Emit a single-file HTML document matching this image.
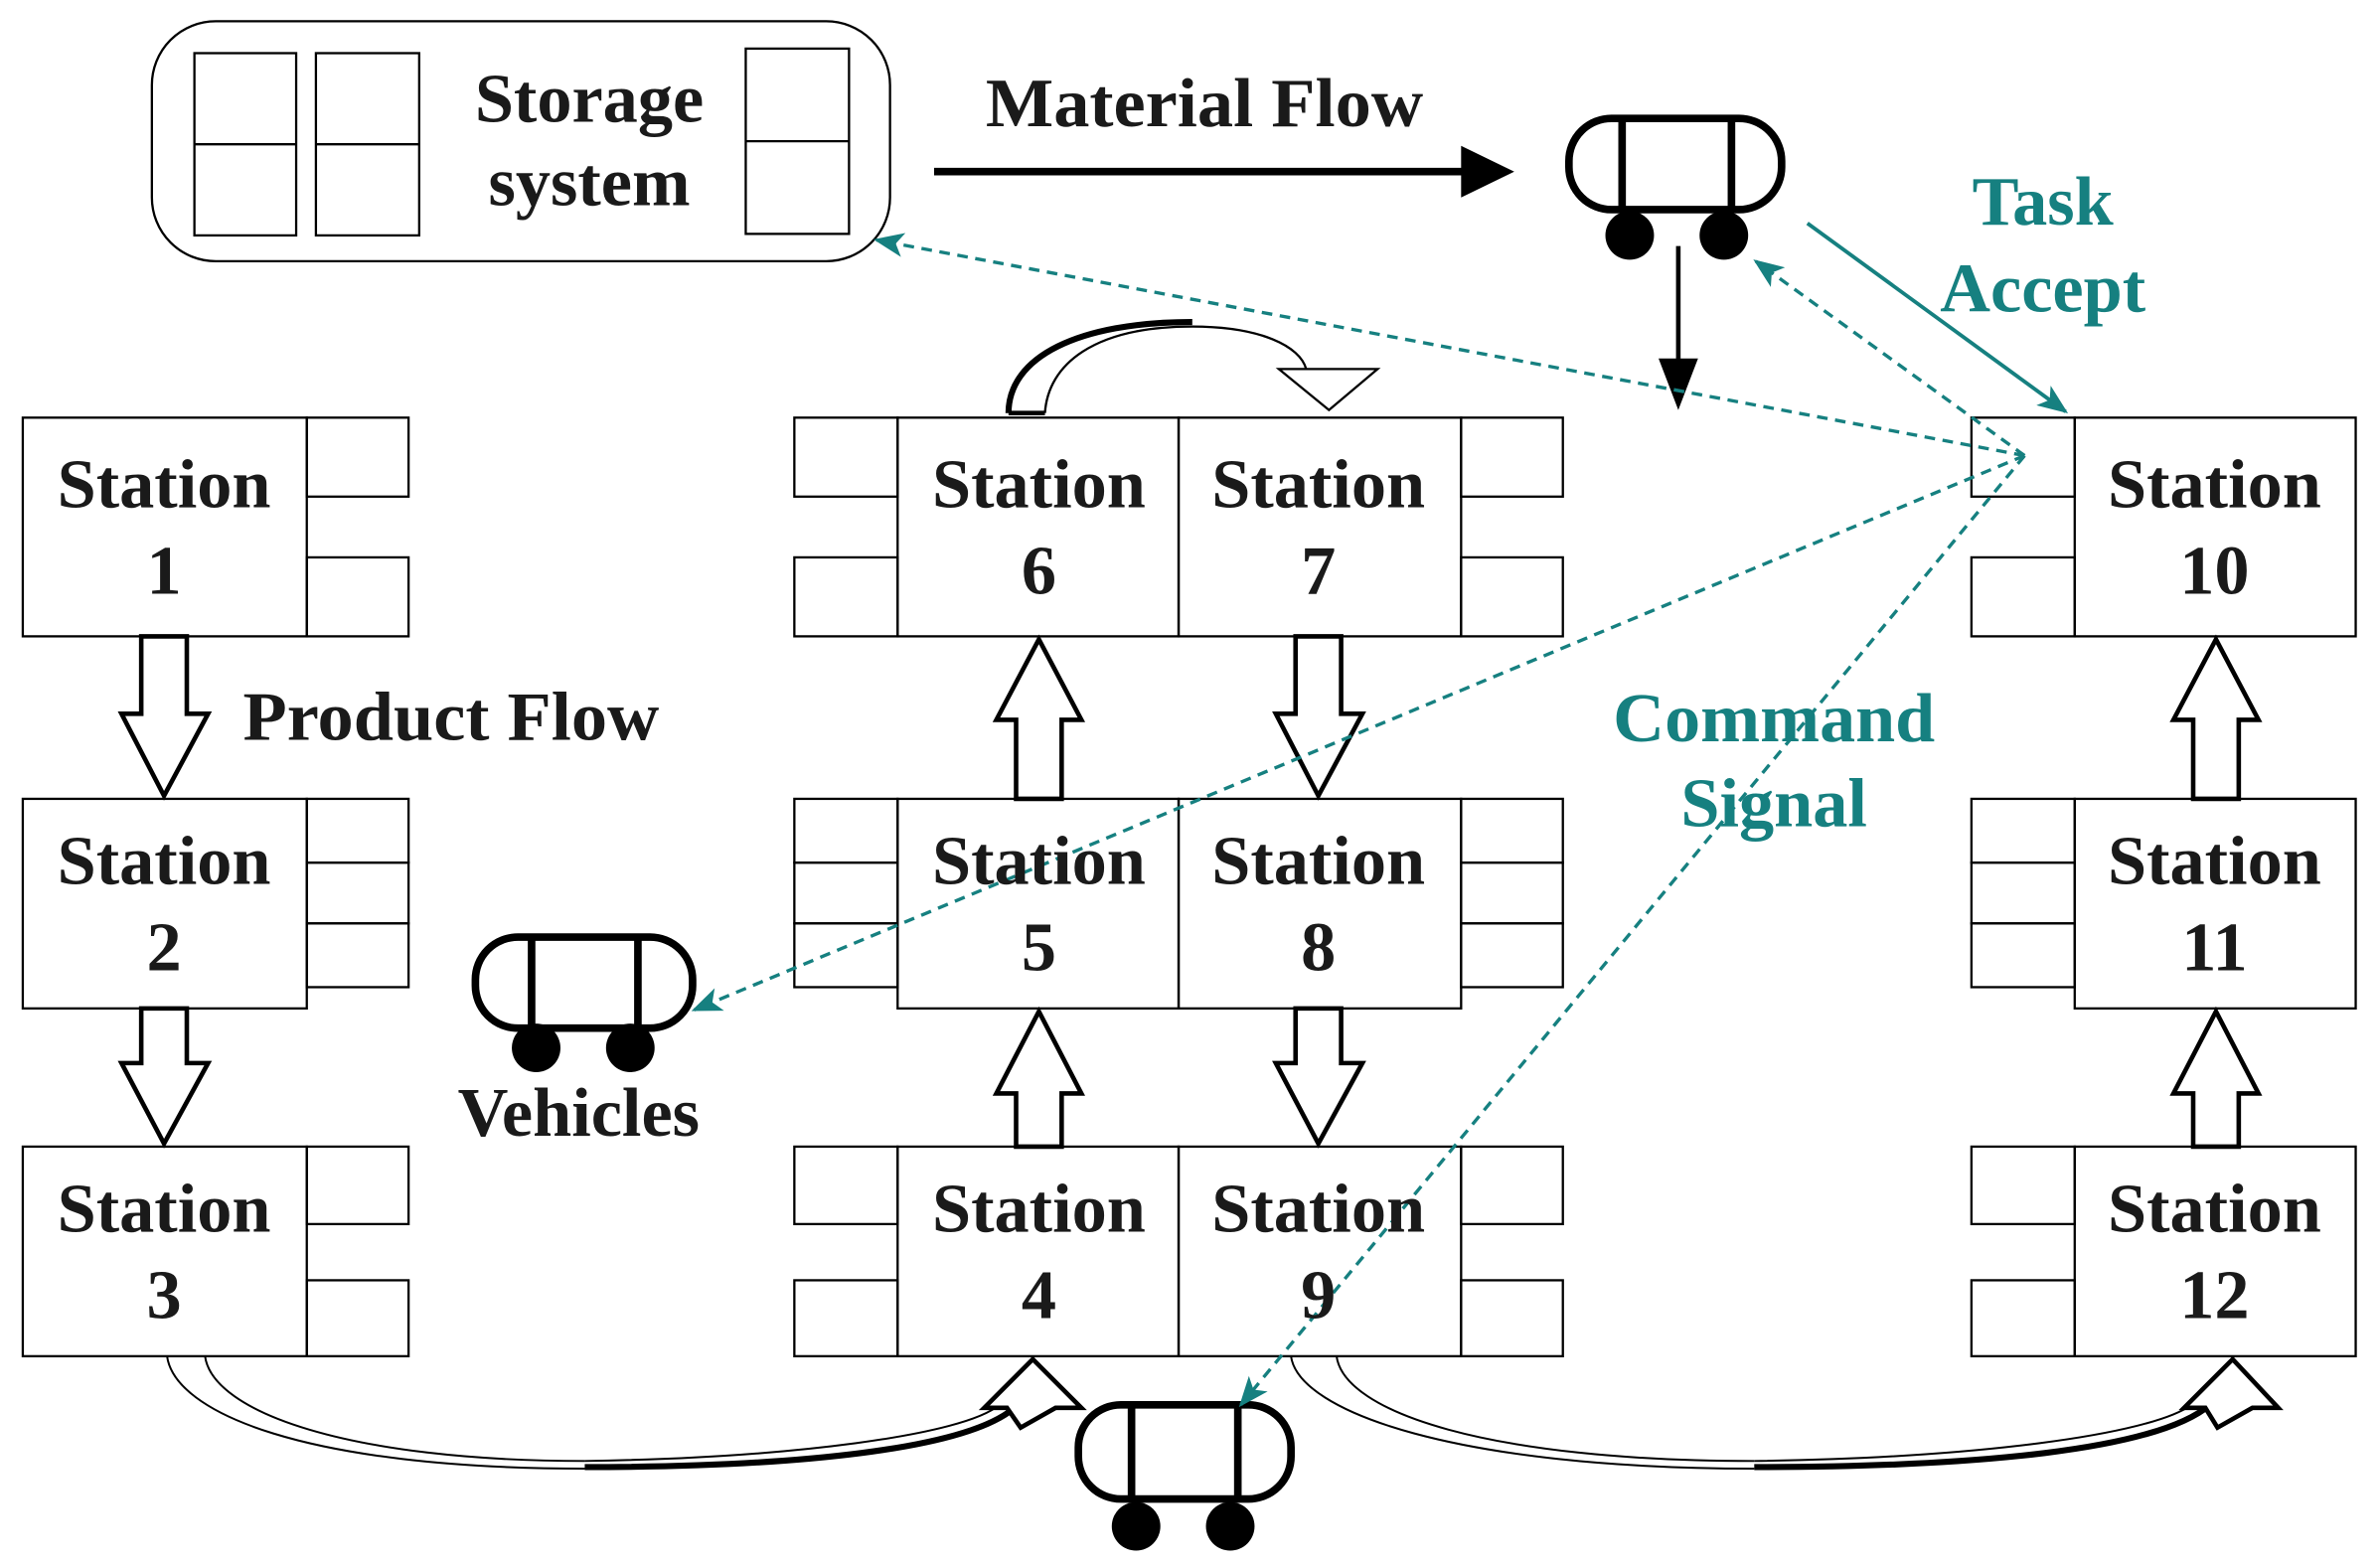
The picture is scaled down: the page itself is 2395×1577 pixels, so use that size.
<!DOCTYPE html>
<html><head><meta charset="utf-8"><style>
html,body{margin:0;padding:0;background:#fff;}
svg{display:block;}
text{font-family:"Liberation Serif",serif;font-weight:bold;}
</style></head><body>
<svg width="2395" height="1577" viewBox="0 0 1567 1031.8" preserveAspectRatio="none" xmlns="http://www.w3.org/2000/svg">
<defs>
<marker id="tb" markerWidth="20" markerHeight="20" refX="18" refY="10" orient="auto" markerUnits="userSpaceOnUse" viewBox="0 0 20 20"><path d="M0,2 L20,10 L0,18 L5,10 z" fill="#168080"/></marker>
</defs>
<g fill="none" stroke="#000" stroke-width="1.5">
<rect x="100" y="14" width="486" height="158" rx="42"/>
<rect x="128" y="35" width="67" height="120"/><line x1="128" y1="95" x2="195" y2="95"/>
<rect x="208" y="35" width="68" height="120"/><line x1="208" y1="95" x2="276" y2="95"/>
<rect x="491" y="32" width="68" height="122"/><line x1="491" y1="93" x2="559" y2="93"/>
<rect x="15" y="275" width="187" height="144"/><rect x="202" y="275" width="67" height="52"/><rect x="202" y="367" width="67" height="52"/>
<rect x="15" y="526" width="187" height="138"/><rect x="202" y="526" width="67" height="42"/><rect x="202" y="568" width="67" height="40"/><rect x="202" y="608" width="67" height="42"/>
<rect x="15" y="755" width="187" height="138"/><rect x="202" y="755" width="67" height="51"/><rect x="202" y="843" width="67" height="50"/>
<rect x="591" y="275" width="185" height="144"/><rect x="776" y="275" width="186" height="144"/>
<rect x="523" y="275" width="68" height="52"/><rect x="523" y="367" width="68" height="52"/>
<rect x="962" y="275" width="67" height="52"/><rect x="962" y="367" width="67" height="52"/>
<rect x="591" y="526" width="185" height="138"/><rect x="776" y="526" width="186" height="138"/>
<rect x="523" y="526" width="68" height="42"/><rect x="523" y="568" width="68" height="40"/><rect x="523" y="608" width="68" height="42"/>
<rect x="962" y="526" width="67" height="42"/><rect x="962" y="568" width="67" height="40"/><rect x="962" y="608" width="67" height="42"/>
<rect x="591" y="755" width="185" height="138"/><rect x="776" y="755" width="186" height="138"/>
<rect x="523" y="755" width="68" height="51"/><rect x="523" y="843" width="68" height="50"/>
<rect x="962" y="755" width="67" height="51"/><rect x="962" y="843" width="67" height="50"/>
<rect x="1366" y="275" width="185" height="144"/><rect x="1298" y="275" width="68" height="52"/><rect x="1298" y="367" width="68" height="52"/>
<rect x="1366" y="526" width="185" height="138"/><rect x="1298" y="526" width="68" height="42"/><rect x="1298" y="568" width="68" height="40"/><rect x="1298" y="608" width="68" height="42"/>
<rect x="1366" y="755" width="185" height="138"/><rect x="1298" y="755" width="68" height="51"/><rect x="1298" y="843" width="68" height="50"/>
</g>
<g fill="#fff" stroke="#000" stroke-width="3">
<path d="M93,419 L123,419 L123,470 L137,470 L108,524 L80,470 L93,470 Z"/>
<path d="M93,664 L123,664 L123,700 L137,700 L108,753 L80,700 L93,700 Z"/>
<path d="M853,419 L883,419 L883,470 L897,470 L868,524 L840,470 L853,470 Z"/>
<path d="M853,664 L883,664 L883,700 L897,700 L868,753 L840,700 L853,700 Z"/>
<path d="M669,526 L699,526 L699,474 L712,474 L684,421 L656,474 L669,474 Z"/>
<path d="M669,755 L699,755 L699,720 L712,720 L684,666 L656,720 L669,720 Z"/>
<path d="M1444,526 L1474,526 L1474,474 L1487,474 L1459,421 L1431,474 L1444,474 Z"/>
<path d="M1444,755 L1474,755 L1474,720 L1487,720 L1459,666 L1431,720 L1444,720 Z"/>
</g>
<path d="M664,272 C664,235 710,212 785,212" fill="none" stroke="#000" stroke-width="4"/>
<path d="M688,272 C690,240 720,215 785,215 C830,215 856,228 860,243" fill="none" stroke="#000" stroke-width="1.5"/>
<path d="M664,272 L688,272" stroke="#000" stroke-width="3"/>
<path d="M842,243 L907,243 L875,270 Z" fill="#fff" stroke="#000" stroke-width="1.5"/>
<g fill="none" stroke="#000">
<path d="M110,893 C115,930 200,967 385,967" stroke-width="1.3"/>
<path d="M135,893 C140,930 230,962 385,962" stroke-width="1.3"/>
<path d="M385,966 C520,966 640,955 670,925" stroke-width="4"/>
<path d="M385,962 C520,960 635,945 658,925" stroke-width="1.3"/>
<path d="M850,893 C855,930 960,967 1155,967" stroke-width="1.3"/>
<path d="M880,893 C885,930 980,962 1155,962" stroke-width="1.3"/>
<path d="M1155,966 C1300,966 1420,955 1455,925" stroke-width="4"/>
<path d="M1155,962 C1300,960 1415,945 1443,925" stroke-width="1.3"/>
</g>
<path d="M648,927 L680,895 L712,927 L695,927 L672,940 L663,927 Z" fill="#fff" stroke="#000" stroke-width="3"/>
<path d="M1438,927 L1470,895 L1500,927 L1483,927 L1460,940 L1452,927 Z" fill="#fff" stroke="#000" stroke-width="3"/>
<g fill="none" stroke="#000" stroke-width="5">
<rect x="1033" y="78" width="140" height="60" rx="28"/><line x1="1068" y1="78" x2="1068" y2="138"/><line x1="1140" y1="78" x2="1140" y2="138"/>
<rect x="313" y="617" width="143" height="60" rx="28"/><line x1="350" y1="617" x2="350" y2="677"/><line x1="420" y1="617" x2="420" y2="677"/>
<rect x="710" y="925" width="140" height="62" rx="28"/><line x1="745" y1="925" x2="745" y2="987"/><line x1="815" y1="925" x2="815" y2="987"/>
</g>
<g fill="#000">
<circle cx="1073" cy="155" r="16"/><circle cx="1135" cy="155" r="16"/>
<circle cx="353" cy="690" r="16"/><circle cx="415" cy="690" r="16"/>
<circle cx="748" cy="1005" r="16"/><circle cx="810" cy="1005" r="16"/>
</g>
<line x1="615" y1="113" x2="965" y2="113" stroke="#000" stroke-width="5"/>
<path d="M962,96 L997,113 L962,130 Z" fill="#000"/>
<line x1="1105" y1="162" x2="1105" y2="240" stroke="#000" stroke-width="3"/>
<path d="M1092,236 L1118,236 L1105,270 Z" fill="#000"/>
<line x1="1190" y1="147" x2="1360" y2="271" stroke="#168080" stroke-width="2.5" marker-end="url(#tb)"/>
<g stroke="#168080" stroke-width="2.2" fill="none" stroke-dasharray="7,5">
<line x1="1333" y1="300" x2="577" y2="158" marker-end="url(#tb)"/>
<line x1="1333" y1="300" x2="1156" y2="172" marker-end="url(#tb)"/>
<line x1="1333" y1="300" x2="457" y2="665" marker-end="url(#tb)"/>
<line x1="1333" y1="300" x2="817" y2="925" marker-end="url(#tb)"/>
</g>
<g font-size="46" text-anchor="middle" fill="#1a1a1a">
<text x="388" y="80">Storage</text><text x="388" y="135">system</text>
<text x="793" y="83" textLength="288" lengthAdjust="spacingAndGlyphs">Material Flow</text>
<text x="297" y="487" textLength="274" lengthAdjust="spacingAndGlyphs">Product Flow</text>
<text x="381" y="748">Vehicles</text>
<text x="108" y="334">Station</text><text x="108" y="391">1</text>
<text x="108" y="582">Station</text><text x="108" y="639">2</text>
<text x="108" y="811">Station</text><text x="108" y="868">3</text>
<text x="684" y="334">Station</text><text x="684" y="391">6</text>
<text x="868" y="334">Station</text><text x="868" y="391">7</text>
<text x="684" y="582">Station</text><text x="684" y="639">5</text>
<text x="868" y="582">Station</text><text x="868" y="639">8</text>
<text x="684" y="811">Station</text><text x="684" y="868">4</text>
<text x="868" y="811">Station</text><text x="868" y="868">9</text>
<text x="1458" y="334">Station</text><text x="1458" y="391">10</text>
<text x="1458" y="582">Station</text><text x="1458" y="639">11</text>
<text x="1458" y="811">Station</text><text x="1458" y="868">12</text>
</g>
<g font-size="46" text-anchor="middle" fill="#168080">
<text x="1345" y="148">Task</text><text x="1345" y="205">Accept</text>
<text x="1168" y="488" textLength="212" lengthAdjust="spacingAndGlyphs">Command</text><text x="1168" y="544">Signal</text>
</g>
</svg>
</body></html>
